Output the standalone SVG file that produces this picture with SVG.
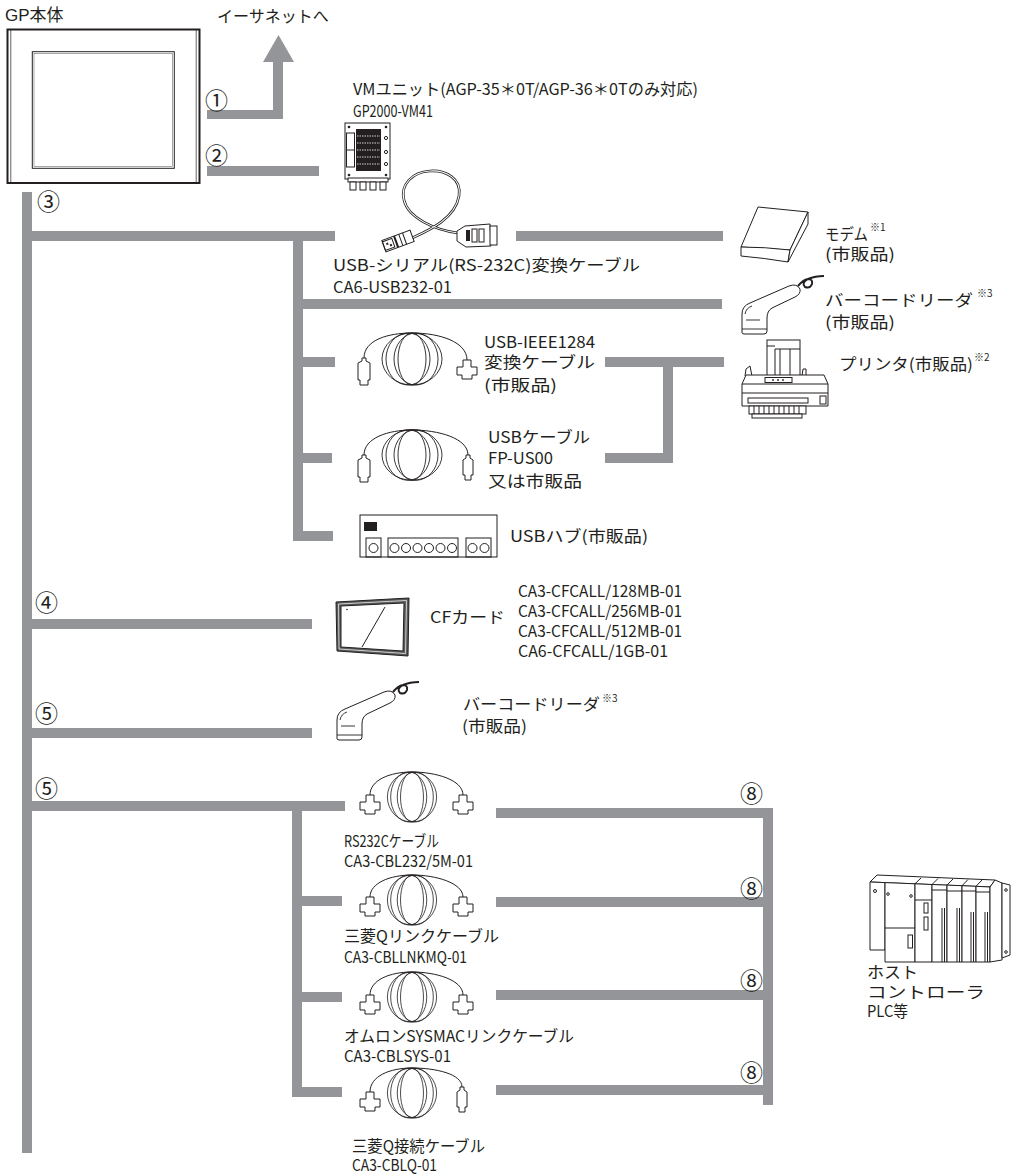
<svg xmlns="http://www.w3.org/2000/svg" xmlns:xlink="http://www.w3.org/1999/xlink" width="1012" height="1175" viewBox="0 0 1012 1175">
<style>
.bar{fill:#939598}
.ln{fill:none;stroke:#231f20;stroke-width:1}
.lnw{fill:#fff;stroke:#231f20;stroke-width:1}
.t{font-family:"Noto Sans CJK JP","Liberation Sans",sans-serif;font-size:16px;fill:#231f20}
.n{font-family:"Noto Sans CJK JP","DejaVu Sans",sans-serif;font-size:23px;fill:#231f20}
.s{font-family:"Noto Sans CJK JP",sans-serif;font-size:10px;fill:#231f20}
</style>
<defs>
<path id="dsub" d="M-4,0 H4 V7 H10 V15 H5 V19 H-5 V15 H-10 V7 H-4 Z" fill="#fff" stroke="#231f20" stroke-width="1"/>
<path id="usba" d="M-2,0 H2 V3 L6,5 V22 H4 V27 H-4 V22 H-6 V5 L-2,3 Z" fill="#fff" stroke="#231f20" stroke-width="1"/>
<path id="mini" d="M-2,0 H2 V3 L5,5 V20 H3 V25 H-3 V20 H-5 V5 L-2,3 Z" fill="#fff" stroke="#231f20" stroke-width="1"/>
<g id="coil" fill="none" stroke="#231f20" stroke-width="0.9">
<ellipse cx="0" cy="0" rx="30" ry="26"/>
<ellipse cx="-4" cy="0" rx="22" ry="26"/>
<ellipse cx="4" cy="0" rx="22" ry="26"/>
<ellipse cx="0" cy="0" rx="14" ry="26"/>
</g>
<g id="barcode">
<path d="M742,333 L742,314 Q742,306 750,303 L789,286 Q797,283 800,289 Q801,294 795,297 L772,308 Q767,311 767,318 L767,331 Q767,334 764,334 L745,334 Q742,334 742,333 Z" fill="#fff" stroke="#231f20" stroke-width="1"/>
<path d="M746,320 L760,320 M745,314 Q746,308 752,306 M742,329 H767" fill="none" stroke="#231f20" stroke-width="0.9"/>
<path d="M798,286 Q803,280 808,279 Q813,279 812,284 Q810,289 805,287 Q801,283 808,279 Q815,276 824,276" fill="none" stroke="#231f20" stroke-width="2"/>
</g>
</defs>

<g id="connectors">
<rect class="bar" x="207" y="110" width="76" height="9"/>
<rect class="bar" x="273" y="62" width="10" height="57"/>
<polygon class="bar" points="263,62 294,62 278.5,35"/>
<rect class="bar" x="207" y="166" width="112" height="10"/>
<rect class="bar" x="22" y="192" width="10" height="961"/>
<rect class="bar" x="32" y="231" width="303" height="10"/>
<rect class="bar" x="516" y="231" width="207" height="10"/>
<rect class="bar" x="293" y="241" width="10" height="300"/>
<rect class="bar" x="303" y="299" width="419" height="10"/>
<rect class="bar" x="303" y="357" width="32" height="10"/>
<rect class="bar" x="605" y="357" width="119" height="10"/>
<rect class="bar" x="663" y="367" width="10" height="96"/>
<rect class="bar" x="605" y="453" width="68" height="10"/>
<rect class="bar" x="303" y="453" width="29" height="10"/>
<rect class="bar" x="303" y="531" width="30" height="10"/>
<rect class="bar" x="32" y="619" width="280" height="10"/>
<rect class="bar" x="32" y="728" width="280" height="10"/>
<rect class="bar" x="32" y="801" width="313" height="10"/>
<rect class="bar" x="292" y="811" width="10" height="286"/>
<rect class="bar" x="302" y="896" width="40" height="10"/>
<rect class="bar" x="302" y="992" width="40" height="10"/>
<rect class="bar" x="302" y="1087" width="40" height="10"/>
<rect class="bar" x="496" y="808" width="277" height="10"/>
<rect class="bar" x="496" y="897" width="277" height="10"/>
<rect class="bar" x="496" y="990" width="277" height="10"/>
<rect class="bar" x="496" y="1085" width="277" height="10"/>
<rect class="bar" x="763" y="808" width="10" height="297"/>
<text class="n" x="205" y="108.5">①</text>
<text class="n" x="205" y="163.5">②</text>
<text class="n" x="37" y="210">③</text>
<text class="n" x="35" y="611">④</text>
<text class="n" x="35" y="722">⑤</text>
<text class="n" x="35" y="797">⑤</text>
<text class="n" x="740" y="802">⑧</text>
<text class="n" x="740" y="897">⑧</text>
<text class="n" x="740" y="989">⑧</text>
<text class="n" x="740" y="1081">⑧</text>
<text class="t" x="217" y="22" font-size="15">イーサネットへ</text>
</g>

<g id="gp-unit">
<text x="5" y="21" font-family="Liberation Sans, Noto Sans CJK JP, sans-serif" font-size="17" fill="#231f20">GP本体</text>
<rect x="7.5" y="29.5" width="192" height="153.5" fill="#fff" stroke="#231f20" stroke-width="2"/>
<line x1="10.8" y1="30" x2="10.8" y2="182" stroke="#231f20" stroke-width="0.7"/>
<line x1="196.2" y1="30" x2="196.2" y2="182" stroke="#231f20" stroke-width="0.7"/>
<rect x="32.3" y="51.7" width="142" height="116.6" fill="none" stroke="#231f20" stroke-width="1"/>
<rect x="34" y="53.5" width="138.6" height="113" fill="none" stroke="#6d6e71" stroke-width="0.6"/>
</g>

<g id="vm-unit">
<text class="t" x="353" y="95" textLength="345" lengthAdjust="spacingAndGlyphs">VMユニット(AGP-35＊0T/AGP-36＊0Tのみ対応)</text>
<text class="t" x="353" y="117" textLength="80" lengthAdjust="spacingAndGlyphs">GP2000-VM41</text>
<rect x="345" y="123" width="45" height="56" class="lnw" stroke-width="1.2"/>
<rect x="356" y="129" width="25" height="42" fill="#231f20"/>
<path d="M357,136H380M357,143H380M357,150H380M357,157H380M357,164H380" stroke="#fff" stroke-width="0.8" stroke-dasharray="1.5 1"/>
<rect x="346.5" y="133" width="8" height="34" class="ln" stroke-width="0.6"/>
<line x1="346.5" y1="150" x2="354.5" y2="150" class="ln" stroke-width="0.6"/>
<circle cx="349" cy="127" r="1.3" fill="#231f20"/>
<circle cx="386" cy="127" r="1.3" fill="#231f20"/>
<circle cx="349" cy="175" r="1.3" fill="#231f20"/>
<circle cx="386" cy="175" r="1.3" fill="#231f20"/>
<circle cx="386" cy="138" r="1.6" class="ln" stroke-width="0.7"/>
<circle cx="386" cy="152" r="1.6" class="ln" stroke-width="0.7"/>
<circle cx="386" cy="164" r="1.6" class="ln" stroke-width="0.7"/>
<rect x="348" y="178" width="40" height="4" class="lnw" stroke-width="0.8"/>
<rect x="350" y="182" width="6" height="8" class="lnw" stroke-width="0.9"/>
<rect x="360" y="182" width="6" height="8" class="lnw" stroke-width="0.9"/>
<rect x="370" y="182" width="6" height="8" class="lnw" stroke-width="0.9"/>
<rect x="380" y="182" width="6" height="8" class="lnw" stroke-width="0.9"/>
</g>

<g id="usb-serial-cable">
<path d="M412,238 C425,232 455,220 459,196 C462,178 445,170 430,171 C412,172 400,185 404,200 C408,218 435,230 458,233" fill="none" stroke="#231f20" stroke-width="2.6"/>
<path d="M412,238 C425,232 455,220 459,196 C462,178 445,170 430,171 C412,172 400,185 404,200 C408,218 435,230 458,233" fill="none" stroke="#fff" stroke-width="1.1"/>
<g transform="translate(398,241) rotate(-20)">
<rect x="-15" y="-6" width="30" height="12" class="lnw"/>
<rect x="-15" y="-4.5" width="10" height="9" class="ln" stroke-width="0.7"/>
<rect x="-12" y="-2" width="2" height="2" fill="#231f20"/>
<rect x="-9" y="0.5" width="2" height="2" fill="#231f20"/>
<rect x="-3" y="-6" width="2" height="12" fill="#231f20"/>
<path d="M3,-6 V6 M7,-6 V6" class="ln" stroke-width="0.6"/>
</g>
<polygon points="457,231 465,226 490,224 491,246 466,247 457,241" class="lnw"/>
<rect x="490" y="226" width="7" height="19" class="lnw"/>
<rect x="466" y="230" width="4" height="11" fill="#231f20"/>
<rect x="472" y="229" width="5" height="13" class="ln" stroke-width="0.8"/>
<rect x="479" y="229" width="5" height="13" class="ln" stroke-width="0.8"/>
<text class="t" x="333" y="271" textLength="307" lengthAdjust="spacingAndGlyphs">USB-シリアル(RS-232C)変換ケーブル</text>
<text class="t" x="333" y="293" textLength="119" lengthAdjust="spacingAndGlyphs">CA6-USB232-01</text>
</g>

<g id="modem">
<polygon points="758,207 808,212 790,250 741,247" class="lnw"/>
<path d="M741,247 Q765,247 790,250 L788,262 Q764,258 741,256 Z" class="lnw"/>
<polygon points="808,212 808,224 788,262 790,250" class="lnw"/>
<text class="t" x="825" y="240" textLength="43" lengthAdjust="spacingAndGlyphs">モデム</text>
<text class="s" x="870" y="231">※1</text>
<text class="t" x="825" y="260" textLength="70" lengthAdjust="spacingAndGlyphs">(市販品)</text>
</g>

<g id="barcode-1">
<use xlink:href="#barcode"/>
<text class="t" x="825" y="306" textLength="148" lengthAdjust="spacingAndGlyphs">バーコードリーダ</text>
<text class="s" x="977" y="297">※3</text>
<text class="t" x="825" y="328" textLength="70" lengthAdjust="spacingAndGlyphs">(市販品)</text>
</g>

<g id="printer">
<rect x="767" y="340" width="33" height="36" class="lnw"/>
<path d="M775,376 V349 H800 M780,349 V376 M790,349 V376 M767,346 H775" class="ln" stroke-width="0.7"/>
<path d="M745,376 L746,369 L750,366 L752,376" class="ln" stroke-width="0.8"/>
<path d="M802,376 L803,369 L806,369 L806,376" class="ln" stroke-width="0.8"/>
<polygon points="746,375 824,375 828,384 828,406 742,406 742,384" class="lnw"/>
<path d="M742,384 H828 M742,393 H828" class="ln" stroke-width="0.8"/>
<rect x="765" y="377.5" width="27" height="5" class="lnw" stroke-width="0.8"/>
<circle cx="773" cy="380" r="0.9" fill="#231f20"/>
<circle cx="778" cy="380" r="0.9" fill="#231f20"/>
<circle cx="783" cy="380" r="0.9" fill="#231f20"/>
<rect x="748" y="398" width="60" height="5" class="lnw" stroke-width="0.8"/>
<rect x="749" y="406" width="57" height="8" class="lnw" stroke-width="0.9"/>
<path d="M754,406V414M759,406V414M764,406V414M769,406V414M774,406V414M779,406V414M784,406V414M789,406V414M794,406V414M799,406V414" class="ln" stroke-width="0.7"/>
<rect x="752" y="414" width="50" height="4" class="lnw" stroke-width="0.8"/>
<rect x="820" y="396" width="6" height="8" class="ln" stroke-width="0.7"/>
<text class="t" x="839" y="370" textLength="134" lengthAdjust="spacingAndGlyphs">プリンタ(市販品)</text>
<text class="s" x="974" y="361">※2</text>
</g>

<g id="usb-ieee1284-cable">
<use xlink:href="#coil" transform="translate(412,359)"/>
<path d="M364,358 C364,340 388,333 412,333 C440,333 467,342 467,360" class="ln"/>
<use xlink:href="#usba" x="364" y="358"/>
<use xlink:href="#dsub" x="467" y="360"/>
<text class="t" x="484" y="348" textLength="111" lengthAdjust="spacingAndGlyphs">USB-IEEE1284</text>
<text class="t" x="484" y="368" textLength="111" lengthAdjust="spacingAndGlyphs">変換ケーブル</text>
<text class="t" x="484" y="391" textLength="73" lengthAdjust="spacingAndGlyphs">(市販品)</text>
</g>

<g id="usb-cable">
<use xlink:href="#coil" transform="translate(412,455) scale(1,0.97)"/>
<path d="M364,455 C364,438 388,430 412,430 C438,430 468,438 468,455" class="ln"/>
<use xlink:href="#usba" x="364" y="455"/>
<use xlink:href="#mini" x="468" y="455"/>
<text class="t" x="488" y="443" textLength="102" lengthAdjust="spacingAndGlyphs">USBケーブル</text>
<text class="t" x="488" y="464" textLength="65" lengthAdjust="spacingAndGlyphs">FP-US00</text>
<text class="t" x="488" y="487" textLength="94" lengthAdjust="spacingAndGlyphs">又は市販品</text>
</g>

<g id="usb-hub">
<rect x="360" y="515" width="137" height="42" class="lnw"/>
<rect x="364" y="522" width="13" height="9" fill="#231f20"/>
<rect x="366" y="538" width="15" height="19" class="ln"/>
<circle cx="373.5" cy="548" r="4.5" class="ln"/>
<rect x="388" y="538" width="70" height="19" class="ln"/>
<circle cx="394.5" cy="548" r="4.5" class="ln"/>
<circle cx="406" cy="548" r="4.5" class="ln"/>
<circle cx="417.5" cy="548" r="4.5" class="ln"/>
<circle cx="429" cy="548" r="4.5" class="ln"/>
<circle cx="440.5" cy="548" r="4.5" class="ln"/>
<circle cx="452" cy="548" r="4.5" class="ln"/>
<rect x="466" y="538" width="25" height="19" class="ln"/>
<circle cx="472.5" cy="548" r="4.5" class="ln"/>
<circle cx="484.5" cy="548" r="4.5" class="ln"/>
<text class="t" x="510" y="542" textLength="138" lengthAdjust="spacingAndGlyphs">USBハブ(市販品)</text>
</g>

<g id="cf-card">
<polygon points="336,602 409,598 408,656 337,651" fill="#58595b" stroke="#231f20" stroke-width="1"/>
<polygon points="338.5,604 406.5,600.5 405.5,653.5 339,649" fill="none" stroke="#fff" stroke-width="0.7"/>
<polygon points="341,606 404,603 403,651 341,647" fill="#fff" stroke="#231f20" stroke-width="1"/>
<line x1="385" y1="607" x2="362" y2="647" class="ln"/>
<circle cx="347" cy="609.5" r="0.8" fill="#231f20"/>
<text class="t" x="430" y="623" textLength="75" lengthAdjust="spacingAndGlyphs">CFカード</text>
<text class="t" x="518" y="597" textLength="164" lengthAdjust="spacingAndGlyphs">CA3-CFCALL/128MB-01</text>
<text class="t" x="518" y="617" textLength="164" lengthAdjust="spacingAndGlyphs">CA3-CFCALL/256MB-01</text>
<text class="t" x="518" y="637" textLength="164" lengthAdjust="spacingAndGlyphs">CA3-CFCALL/512MB-01</text>
<text class="t" x="518" y="657" textLength="150" lengthAdjust="spacingAndGlyphs">CA6-CFCALL/1GB-01</text>
</g>

<g id="barcode-2">
<use xlink:href="#barcode" transform="translate(-405,406)"/>
<text class="t" x="463" y="710" textLength="137" lengthAdjust="spacingAndGlyphs">バーコードリーダ</text>
<text class="s" x="602" y="702">※3</text>
<text class="t" x="462" y="732" textLength="65" lengthAdjust="spacingAndGlyphs">(市販品)</text>
</g>

<g id="rs232c-cable">
<use xlink:href="#coil" transform="translate(412,797) scale(0.82,0.96)"/>
<path d="M370,795 C370,780 390,772 412,772 C436,772 463,780 463,795" class="ln"/>
<use xlink:href="#dsub" x="370" y="795"/>
<use xlink:href="#dsub" x="463" y="795"/>
<text class="t" x="344" y="847" textLength="95" lengthAdjust="spacingAndGlyphs">RS232Cケーブル</text>
<text class="t" x="344" y="867" textLength="129" lengthAdjust="spacingAndGlyphs">CA3-CBL232/5M-01</text>
</g>

<g id="mitsubishi-link-cable">
<use xlink:href="#coil" transform="translate(412,900) scale(0.82,0.96)"/>
<path d="M370,897 C370,883 390,875 412,875 C436,875 463,883 463,897" class="ln"/>
<use xlink:href="#dsub" x="370" y="897"/>
<use xlink:href="#dsub" x="463" y="897"/>
<text class="t" x="344" y="942" textLength="155" lengthAdjust="spacingAndGlyphs">三菱Qリンクケーブル</text>
<text class="t" x="344" y="963" textLength="123" lengthAdjust="spacingAndGlyphs">CA3-CBLLNKMQ-01</text>
</g>

<g id="omron-link-cable">
<use xlink:href="#coil" transform="translate(412,997) scale(0.82,0.96)"/>
<path d="M370,995 C370,980 390,972 412,972 C436,972 463,980 463,995" class="ln"/>
<use xlink:href="#dsub" x="370" y="995"/>
<use xlink:href="#dsub" x="463" y="995"/>
<text class="t" x="344" y="1042" textLength="230" lengthAdjust="spacingAndGlyphs">オムロンSYSMACリンクケーブル</text>
<text class="t" x="344" y="1062" textLength="107" lengthAdjust="spacingAndGlyphs">CA3-CBLSYS-01</text>
</g>

<g id="mitsubishi-connect-cable">
<use xlink:href="#coil" transform="translate(412,1093) scale(0.82,0.96)"/>
<path d="M370,1092 C370,1076 390,1068 412,1068 C436,1068 462,1074 462,1087" class="ln"/>
<use xlink:href="#dsub" x="370" y="1092"/>
<use xlink:href="#mini" x="462" y="1087"/>
<text class="t" x="352" y="1152" textLength="133" lengthAdjust="spacingAndGlyphs">三菱Q接続ケーブル</text>
<text class="t" x="352" y="1171" textLength="85" lengthAdjust="spacingAndGlyphs">CA3-CBLQ-01</text>
</g>

<g id="plc">
<polygon points="877,875 995,880 990,887 870,882" class="lnw"/>
<polygon points="870,882 885,882.6 885,950 870,950" class="lnw"/>
<circle cx="875" cy="891" r="1.5" class="ln" stroke-width="0.8"/>
<polygon points="885,882.6 915,883.8 915,962 885,962" class="lnw"/>
<line x1="885" y1="928" x2="915" y2="928" class="ln" stroke-width="0.8"/>
<circle cx="888" cy="894" r="1.3" class="ln" stroke-width="0.7"/>
<circle cx="911" cy="896" r="1.3" class="ln" stroke-width="0.7"/>
<rect x="908" y="935" width="4.5" height="13" class="ln" stroke-width="0.8"/>
<polygon points="915,883.8 932,884.5 932,962 915,962" class="lnw"/>
<line x1="915" y1="900" x2="932" y2="900" class="ln" stroke-width="0.8"/>
<rect x="924" y="903" width="4" height="10" class="ln" stroke-width="0.8"/>
<rect x="924" y="917" width="4" height="13" class="ln" stroke-width="0.8"/>
<polygon points="932,884.5 947,885.1 947,962 932,962" class="lnw"/>
<polygon points="947,885.1 962,885.7 962,962 947,962" class="lnw"/>
<polygon points="962,885.7 976,886.3 976,962 962,962" class="lnw"/>
<polygon points="976,886.3 990,887 990,962 976,962" class="lnw"/>
<path d="M942,908 V962 M944.5,908 V962 M957,908 V962 M959.5,908 V962 M971,912 V962 M973.5,912 V962 M985,912 V962 M987.5,912 V962" class="ln" stroke-width="0.7"/>
<path d="M932,890 H947 M947,891 H962 M962,891 H976 M976,892 H990" class="ln" stroke-width="0.6"/>
<path d="M915,883.8 L921,878 M932,884.5 L938,878.5 M947,885.1 L953,879 M962,885.7 L968,879.5 M976,886.3 L982,880" class="ln" stroke-width="0.7"/>
<polygon points="990,887 995,880 1002,883 1002,960 990,962" class="lnw"/>
<polygon points="1002,883 1010,885 1010,955 1002,958" class="lnw"/>
<circle cx="1006" cy="890" r="1.3" class="ln" stroke-width="0.7"/>
<circle cx="1006" cy="952" r="1.3" class="ln" stroke-width="0.7"/>
<text class="t" x="867" y="978" textLength="51" lengthAdjust="spacingAndGlyphs">ホスト</text>
<text class="t" x="867" y="998" textLength="118" lengthAdjust="spacingAndGlyphs">コントローラ</text>
<text class="t" x="867" y="1017" textLength="41" lengthAdjust="spacingAndGlyphs">PLC等</text>
</g>
</svg>
